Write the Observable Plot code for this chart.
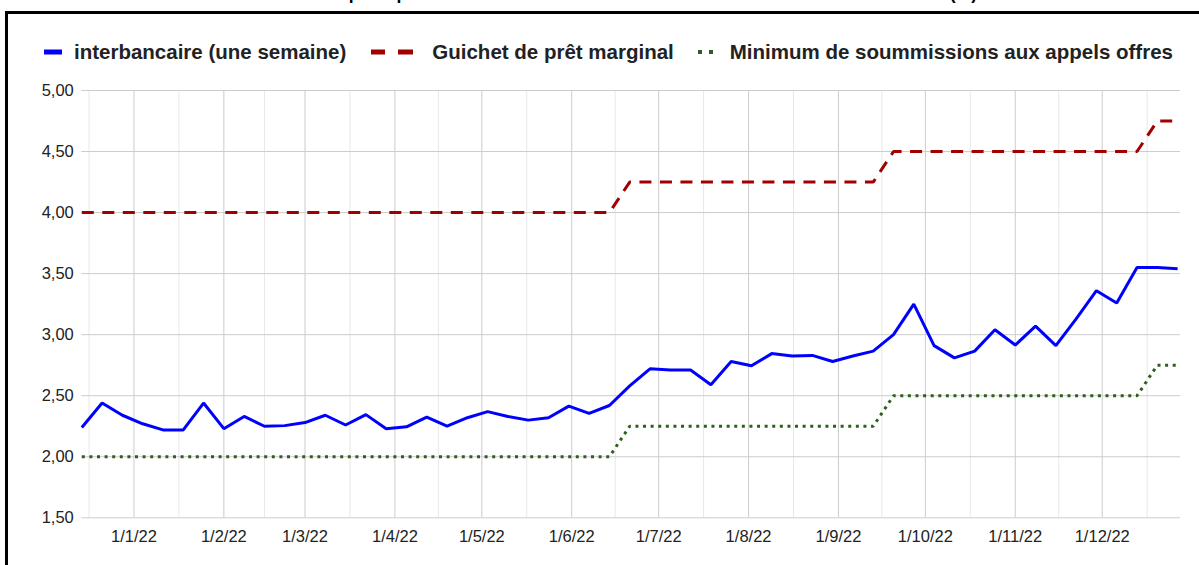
<!DOCTYPE html>
<html>
<head>
<meta charset="utf-8">
<script src="https://cdn.jsdelivr.net/npm/d3@7"></script>
<script src="https://cdn.jsdelivr.net/npm/@observablehq/plot@0.6"></script>
<style>
  html, body { margin: 0; padding: 0; background: #fff; overflow: hidden; }
  #wrap { position: relative; width: 1199px; height: 565px; overflow: hidden;
          font-family: "Liberation Sans", Arial, sans-serif; }
  #frame { position: absolute; left: 5px; top: 11px; width: 1300px; height: 700px;
           border: 3px solid #000; pointer-events: none; }
  #title { position: absolute; right: 222px; top: -16px; font-size: 17.5px; line-height: 18px;
           font-weight: bold; color: #000; white-space: nowrap; }
  #legend { height: 70px; box-sizing: border-box; padding: 40px 0 0 44px; display: flex;
            align-items: flex-start; font-size: 20.5px; font-weight: bold; color: #222; }
  .item { display: flex; align-items: center; height: 24px; white-space: nowrap; }
  .item svg { display: block; }
  #chart svg { display: block; }
</style>
</head>
<body>
<div id="wrap">
  <div id="title">Taux directeurs principaux de la BCEAO et taux du marché interbancaire à une semaine (%)</div>
  <div id="frame"></div>
  <div id="legend"></div>
  <div id="chart"></div>
</div>
<script>
// ---------- data ----------
const seriesNames = [
  "interbancaire (une semaine)",
  "Guichet de prêt marginal",
  "Minimum de soummissions aux appels offres"
];
const seriesColors = ["#0000ff", "#a00000", "#2f5f1f"];

const dates = [
  "2021-12-14","2021-12-21","2021-12-28",
  "2022-01-04","2022-01-11","2022-01-18","2022-01-25",
  "2022-02-01","2022-02-08","2022-02-15","2022-02-22",
  "2022-03-01","2022-03-08","2022-03-15","2022-03-22","2022-03-29",
  "2022-04-05","2022-04-12","2022-04-19","2022-04-26",
  "2022-05-03","2022-05-10","2022-05-17","2022-05-24","2022-05-31",
  "2022-06-07","2022-06-14","2022-06-21","2022-06-28",
  "2022-07-05","2022-07-12","2022-07-19","2022-07-26",
  "2022-08-02","2022-08-09","2022-08-16","2022-08-23","2022-08-30",
  "2022-09-06","2022-09-13","2022-09-20","2022-09-27",
  "2022-10-04","2022-10-11","2022-10-18","2022-10-25",
  "2022-11-01","2022-11-08","2022-11-15","2022-11-22","2022-11-29",
  "2022-12-06","2022-12-13","2022-12-20","2022-12-27"
];

const interbancaire = [
  2.24, 2.44, 2.34,
  2.27, 2.22, 2.22, 2.44,
  2.23, 2.33, 2.25, 2.255,
  2.28, 2.34, 2.26, 2.345, 2.23,
  2.245, 2.325, 2.25, 2.32,
  2.37, 2.33, 2.30, 2.32, 2.415,
  2.355, 2.42, 2.58, 2.72,
  2.71, 2.71, 2.59, 2.78,
  2.745, 2.845, 2.825, 2.83, 2.78,
  2.825, 2.865, 3.00, 3.25,
  2.91, 2.81, 2.865, 3.04,
  2.915, 3.07, 2.91, 3.13, 3.36,
  3.26, 3.55, 3.55, 3.54
];

const guichet = [
  4.00, 4.00, 4.00,
  4.00, 4.00, 4.00, 4.00,
  4.00, 4.00, 4.00, 4.00,
  4.00, 4.00, 4.00, 4.00, 4.00,
  4.00, 4.00, 4.00, 4.00,
  4.00, 4.00, 4.00, 4.00, 4.00,
  4.00, 4.00, 4.25, 4.25,
  4.25, 4.25, 4.25, 4.25,
  4.25, 4.25, 4.25, 4.25, 4.25,
  4.25, 4.25, 4.50, 4.50,
  4.50, 4.50, 4.50, 4.50,
  4.50, 4.50, 4.50, 4.50, 4.50,
  4.50, 4.50, 4.75, 4.75
];

const minimum = [
  2.00, 2.00, 2.00,
  2.00, 2.00, 2.00, 2.00,
  2.00, 2.00, 2.00, 2.00,
  2.00, 2.00, 2.00, 2.00, 2.00,
  2.00, 2.00, 2.00, 2.00,
  2.00, 2.00, 2.00, 2.00, 2.00,
  2.00, 2.00, 2.25, 2.25,
  2.25, 2.25, 2.25, 2.25,
  2.25, 2.25, 2.25, 2.25, 2.25,
  2.25, 2.25, 2.50, 2.50,
  2.50, 2.50, 2.50, 2.50,
  2.50, 2.50, 2.50, 2.50, 2.50,
  2.50, 2.50, 2.75, 2.75
];

const monthTicks = [
  "2022-01-01","2022-02-01","2022-03-01","2022-04-01","2022-05-01","2022-06-01",
  "2022-07-01","2022-08-01","2022-09-01","2022-10-01","2022-11-01","2022-12-01"
];
const yTicks = [1.5, 2, 2.5, 3, 3.5, 4, 4.5, 5];
const xDomain = ["2021-12-14", "2022-12-28"];

// ---------- derived tables ----------
const parse = s => new Date(s + "T00:00:00Z");
const rows = dates.map((d, i) => ({
  date: parse(d), inter: interbancaire[i], guichet: guichet[i], minimum: minimum[i]
}));
const majorGrid = monthTicks.map(parse);
// minor gridlines halfway between month boundaries (Dec 2021 .. Jan 2023)
const bounds = [parse("2021-12-01"), ...majorGrid, parse("2023-01-01")];
const minorGrid = d3.pairs(bounds).map(([a, b]) => new Date((+a + +b) / 2));

// ---------- legend ----------
const legend = document.getElementById("legend");
const markers = [
  `<svg width="18" height="6"><rect x="0" y="0.5" width="18" height="5" fill="${seriesColors[0]}"/></svg>`,
  `<svg width="42" height="6"><rect x="0" y="0.5" width="14" height="5" fill="${seriesColors[1]}"/><rect x="27" y="0.5" width="15" height="5" fill="${seriesColors[1]}"/></svg>`,
  `<svg width="15" height="6"><rect x="0" y="1" width="4" height="4" fill="${seriesColors[2]}"/><rect x="11" y="1" width="4" height="4" fill="${seriesColors[2]}"/></svg>`
];
const markerGap = [12, 19, 17];
const itemGap = [25, 24, 0];
seriesNames.forEach((name, i) => {
  const it = document.createElement("div");
  it.className = "item";
  it.style.marginRight = itemGap[i] + "px";
  it.innerHTML = `<span style="margin-right:${markerGap[i]}px">${markers[i]}</span><span>${name}</span>`;
  legend.appendChild(it);
});

// ---------- chart ----------
const fmtX = d3.utcFormat("%-d/%-m/%y");
const chart = Plot.plot({
  width: 1199,
  height: 495,
  marginTop: 20,
  marginBottom: 47.7,
  marginLeft: 81.3,
  marginRight: 19,
  style: { fontFamily: '"Liberation Sans", Arial, sans-serif', fontSize: "16.5px", color: "#222", background: "transparent" },
  x: { type: "utc", domain: xDomain.map(parse) },
  y: { domain: [1.5, 5] },
  marks: [
    Plot.ruleX(minorGrid, { stroke: "#e8e8e8", strokeWidth: 1 }),
    Plot.ruleX(majorGrid, { stroke: "#cccccc", strokeWidth: 1 }),
    Plot.ruleY(yTicks, { stroke: "#cccccc", strokeWidth: 1 }),
    Plot.axisX({ ticks: majorGrid, tickSize: 0, tickPadding: 12, tickFormat: fmtX, label: null }),
    Plot.axisY({ ticks: yTicks, tickSize: 0, tickPadding: 8, tickFormat: d => d.toFixed(2).replace(".", ","), label: null }),
    Plot.line(rows, { x: "date", y: "inter", stroke: seriesColors[0], strokeWidth: 3, strokeLinejoin: "miter", strokeLinecap: "butt" }),
    Plot.line(rows, { x: "date", y: "guichet", stroke: seriesColors[1], strokeWidth: 3, strokeDasharray: "12,8.5", strokeLinecap: "butt", strokeLinejoin: "miter" }),
    Plot.line(rows, { x: "date", y: "minimum", stroke: seriesColors[2], strokeWidth: 3, strokeDasharray: "3,4.6", strokeLinecap: "butt", strokeLinejoin: "miter" })
  ]
});
document.getElementById("chart").appendChild(chart);
</script>
</body>
</html>
